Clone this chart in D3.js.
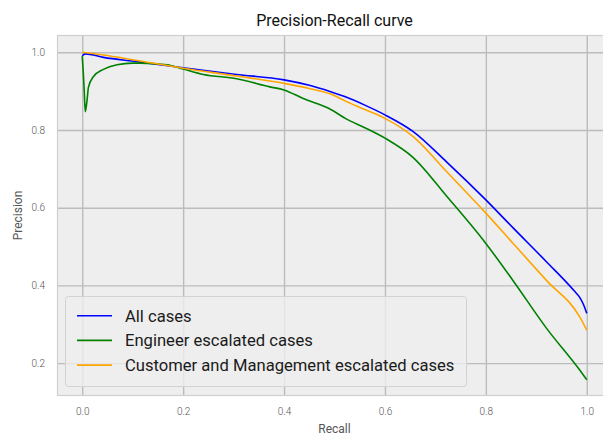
<!DOCTYPE html>
<html>
<head>
<meta charset="utf-8">
<script src="https://cdn.jsdelivr.net/npm/d3@7"></script>
<style>
  html, body { margin: 0; padding: 0; background: #fff; }
  svg { display: block; font-family: Roboto, "DejaVu Sans", sans-serif; }
</style>
</head>
<body>
<svg id="chart" width="603" height="438"></svg>
<script>
// ---- data ----
const seriesNames = ["All cases", "Engineer escalated cases", "Customer and Management escalated cases"];
const seriesColors = ["#0000ff", "#008000", "#ffa500"];

const allRecall    = [0, 0.006, 0.042, 0.108, 0.2, 0.306, 0.4, 0.45, 0.491, 0.524, 0.56, 0.6, 0.656, 0.722, 0.8, 0.854, 0.92, 0.975, 0.986, 0.993, 1.0];
const allPrecision = [0.991, 0.996, 0.987, 0.976, 0.960, 0.943, 0.929, 0.915, 0.899, 0.884, 0.864, 0.839, 0.796, 0.718, 0.620, 0.548, 0.461, 0.386, 0.369, 0.352, 0.328];

const engRecall    = [0, 0.002, 0.004, 0.006, 0.009, 0.0125, 0.022, 0.042, 0.069, 0.1, 0.115, 0.168, 0.2, 0.24, 0.306, 0.372, 0.4, 0.438, 0.491, 0.524, 0.56, 0.6, 0.656, 0.722, 0.8, 0.854, 0.92, 0.986, 1.0];
const engPrecision = [0.99, 0.95, 0.90, 0.847, 0.87, 0.911, 0.937, 0.956, 0.968, 0.972, 0.972, 0.968, 0.957, 0.943, 0.932, 0.911, 0.903, 0.881, 0.854, 0.828, 0.806, 0.779, 0.729, 0.630, 0.508, 0.412, 0.290, 0.182, 0.157];

const custRecall    = [0, 0.042, 0.1, 0.2, 0.306, 0.4, 0.45, 0.491, 0.524, 0.56, 0.6, 0.656, 0.722, 0.8, 0.854, 0.92, 0.986, 1.0];
const custPrecision = [1.0, 0.993, 0.981, 0.959, 0.939, 0.920, 0.907, 0.893, 0.873, 0.853, 0.830, 0.783, 0.693, 0.586, 0.508, 0.413, 0.319, 0.285];

const xTicks = [0.0, 0.2, 0.4, 0.6, 0.8, 1.0];
const yTicks = [0.2, 0.4, 0.6, 0.8, 1.0];

const titleText = "Precision-Recall curve";
const xLabel = "Recall";
const yLabel = "Precision";

// ---- layout ----
const svg = d3.select("#chart");
const L = 57, R = 612, T = 35, B = 396;

const x = d3.scaleLinear().domain([-0.05, 1.05]).range([L, R]);
const y = d3.scaleLinear().domain([0.1153, 1.0445]).range([B, T]);

// background
svg.append("rect").attr("x", L).attr("y", T).attr("width", R - L).attr("height", B - T)
  .attr("fill", "#eeeeee");

// grid
const gx = svg.append("g").attr("transform", `translate(0,${B})`)
  .call(d3.axisBottom(x).tickValues(xTicks).tickSize(-(B - T)).tickFormat(""));
const gy = svg.append("g").attr("transform", `translate(${L},0)`)
  .call(d3.axisLeft(y).tickValues(yTicks).tickSize(-(R - L)).tickFormat(""));
[gx, gy].forEach(g => {
  g.select(".domain").remove();
  g.selectAll(".tick line").attr("stroke", "#bcbcbc").attr("stroke-width", 1.4);
});

// frame
svg.append("rect").attr("x", L + 0.5).attr("y", T + 0.5).attr("width", R - L - 1).attr("height", B - T - 1)
  .attr("fill", "none").attr("stroke", "#cfcfcf").attr("stroke-width", 1.2);

// tick labels
const ax = svg.append("g").attr("transform", `translate(0,${B})`)
  .call(d3.axisBottom(x).tickValues(xTicks).tickSize(0).tickPadding(12).tickFormat(d3.format(".1f")));
const ay = svg.append("g").attr("transform", `translate(${L},0)`)
  .call(d3.axisLeft(y).tickValues(yTicks).tickSize(0).tickPadding(12).tickFormat(d3.format(".1f")));
[ax, ay].forEach(g => {
  g.select(".domain").remove();
  g.selectAll("text").attr("fill", "#555").style("font-size", "10px").style("font-weight", 300)
    .style("font-family", "Roboto, sans-serif");
});

// lines
const series = [
  { r: allRecall, p: allPrecision },
  { r: engRecall, p: engPrecision },
  { r: custRecall, p: custPrecision }
];
const line = d3.line().x(d => x(d[0])).y(d => y(d[1])).curve(d3.curveMonotoneX);
svg.append("clipPath").attr("id", "clip").append("rect")
  .attr("x", L).attr("y", T).attr("width", R - L).attr("height", B - T);
series.forEach((s, i) => {
  svg.append("path")
    .datum(s.r.map((v, j) => [v, s.p[j]]))
    .attr("d", line)
    .attr("fill", "none")
    .attr("stroke", seriesColors[i])
    .attr("stroke-width", 1.6)
    .attr("stroke-linejoin", "round")
    .attr("clip-path", "url(#clip)");
});

// title & labels
svg.append("text").attr("x", (L + R) / 2).attr("y", 26).attr("text-anchor", "middle")
  .style("font-size", "16px").attr("fill", "#111").text(titleText);
svg.append("text").attr("x", (L + R) / 2).attr("y", 433).attr("text-anchor", "middle")
  .style("font-size", "12px").attr("fill", "#555").text(xLabel);
svg.append("text").attr("transform", `translate(22,${(T + B) / 2}) rotate(-90)`).attr("text-anchor", "middle")
  .style("font-size", "12px").attr("fill", "#555").text(yLabel);

// legend
const lg = svg.append("g");
lg.append("rect").attr("x", 65.5).attr("y", 296.5).attr("width", 401).attr("height", 90)
  .attr("rx", 3).attr("fill", "#eeeeee").attr("fill-opacity", 0.8)
  .attr("stroke", "#d2d2d2").attr("stroke-width", 1);
seriesNames.forEach((name, i) => {
  const yy = 315.7 + i * 24.7;
  lg.append("line").attr("x1", 77).attr("x2", 112).attr("y1", yy).attr("y2", yy)
    .attr("stroke", seriesColors[i]).attr("stroke-width", 1.6);
  lg.append("text").attr("x", 125).attr("y", yy).attr("dy", "0.35em")
    .style("font-size", "16.6px").attr("fill", "#1a1a1a").text(name);
});
</script>
</body>
</html>
